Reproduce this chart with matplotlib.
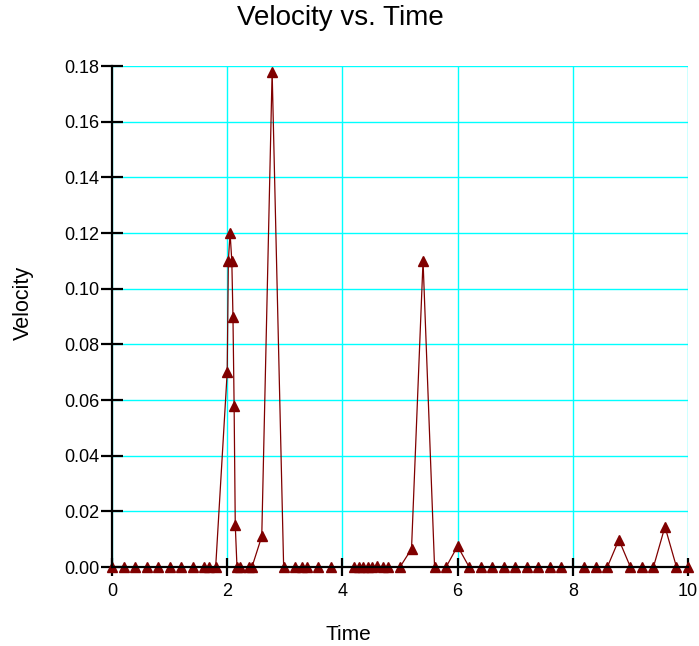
import matplotlib
matplotlib.use("Agg")
import matplotlib.pyplot as plt

plt.rcParams['font.family'] = ['Liberation Sans', 'DejaVu Sans']

time = [0, 0.2, 0.4, 0.6, 0.8, 1.0, 1.2, 1.4, 1.6, 1.68, 1.8,
        2.0, 2.02, 2.05, 2.08, 2.1, 2.12, 2.14, 2.17, 2.22, 2.37, 2.43,
        2.6, 2.78, 2.98, 3.18, 3.29, 3.38, 3.58, 3.8,
        4.2, 4.28, 4.36, 4.44, 4.52, 4.6, 4.7, 4.8, 5.0,
        5.2, 5.4, 5.6, 5.8, 6.0, 6.2, 6.4, 6.6, 6.8, 7.0, 7.2, 7.4, 7.6, 7.8,
        8.2, 8.4, 8.6, 8.8, 9.0, 9.2, 9.4, 9.6, 9.8, 10.0]
velocity = [0, 0, 0, 0, 0, 0, 0, 0, 0, 0, 0,
            0.07, 0.11, 0.12, 0.11, 0.09, 0.058, 0.015, 0, 0, 0, 0,
            0.011, 0.178, 0, 0, 0, 0, 0, 0,
            0, 0, 0, 0, 0, 0.0005, 0, 0, 0,
            0.0065, 0.11, 0, 0, 0.0075, 0, 0, 0, 0, 0, 0, 0, 0, 0,
            0, 0, 0, 0.0098, 0, 0, 0, 0.0145, 0, 0]

xticks = [0, 2, 4, 6, 8, 10]
yticks = [0.00, 0.02, 0.04, 0.06, 0.08, 0.10, 0.12, 0.14, 0.16, 0.18]

fig = plt.figure(figsize=(6.99, 6.46), dpi=100)
ax = fig.add_axes([112 / 699, 1 - 567 / 646, 576 / 699, 501 / 646])

ax.plot(time, velocity, color='#800000', lw=0.9, marker='^', ms=6.5,
        clip_on=False, zorder=3)

ax.set_xlim(0, 10)
ax.set_ylim(0, 0.18)
ax.set_xticks(xticks)
ax.set_xticklabels([str(t) for t in xticks])
ax.set_yticks(yticks)
ax.set_yticklabels(['%.2f' % v for v in yticks])

ax.grid(True, color='cyan', lw=1)
ax.set_axisbelow(True)
for side in ['top', 'right']:
    ax.spines[side].set_visible(False)
for side in ['left', 'bottom']:
    ax.spines[side].set_linewidth(1.6)
    ax.spines[side].set_zorder(6)

ax.tick_params(axis='y', direction='inout', length=16, width=1.6,
               labelsize=13, pad=1)
ax.tick_params(axis='x', direction='inout', length=13, width=1.6,
               labelsize=13, pad=5)

fig.text(0.487, 1 - 18 / 646, 'Velocity vs. Time', ha='center', va='center',
         fontsize=20)
fig.text(0.499, 1 - 635 / 646, 'Time', ha='center', va='center', fontsize=15)
fig.text(23 / 699, 1 - 303 / 646, 'Velocity', ha='center', va='center',
         rotation=90, fontsize=15.5)

fig.savefig('out.png', dpi=100)
